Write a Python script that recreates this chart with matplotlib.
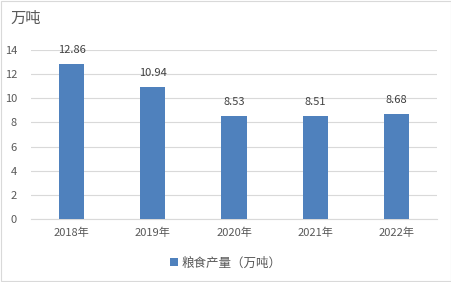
import matplotlib
matplotlib.use('Agg')
import matplotlib.pyplot as plt

plt.rcParams['font.family'] = ['Noto Sans CJK SC', 'DejaVu Sans']

# data
years = ['2018年', '2019年', '2020年', '2021年', '2022年']
grain = [12.86, 10.94, 8.53, 8.51, 8.68]
y_ticks = [0, 2, 4, 6, 8, 10, 12, 14]

bar_color = '#4f81bd'
text_color = '#595959'

fig = plt.figure(figsize=(4.52, 2.82), dpi=100)
ax = fig.add_axes([31/452, 1-219/282, (437-31)/452, (219-50)/282])

x = list(range(len(years)))
bars = ax.bar(x, grain, width=0.31, color=bar_color, label='粮食产量（万吨）', zorder=3)

for xi, v in zip(x, grain):
    ax.text(xi, v + 0.75, '%.2f' % v, ha='center', va='bottom', fontsize=8, color='#404040')

ax.set_xlim(-0.5, len(years) - 0.5)
ax.set_ylim(0, 14)
ax.set_yticks(y_ticks)
ax.set_xticks(x)
ax.set_xticklabels(years)
ax.tick_params(axis='both', length=0, labelsize=8, colors=text_color)
ax.tick_params(axis='y', pad=10)
ax.tick_params(axis='x', pad=6)
ax.grid(axis='y', color='#d9d9d9', linewidth=0.8, zorder=0)
for s in ['top', 'right', 'left']:
    ax.spines[s].set_visible(False)
ax.spines['bottom'].set_color('#d9d9d9')

fig.text(10/452, 1-18/282, '万吨', fontsize=11, color=text_color, ha='left', va='center')

fig.legend(loc='center', bbox_to_anchor=(0.5, 1-263/282), frameon=False, fontsize=9,
           handlelength=0.6, handleheight=0.6, handletextpad=0.3, labelcolor=text_color)

# outer border
fig.patches.append(plt.Rectangle((0.002, 0.003), 0.995, 0.994, transform=fig.transFigure,
                                 fill=False, edgecolor='#d9d9d9', linewidth=0.8))

fig.savefig('out.png', dpi=100)
